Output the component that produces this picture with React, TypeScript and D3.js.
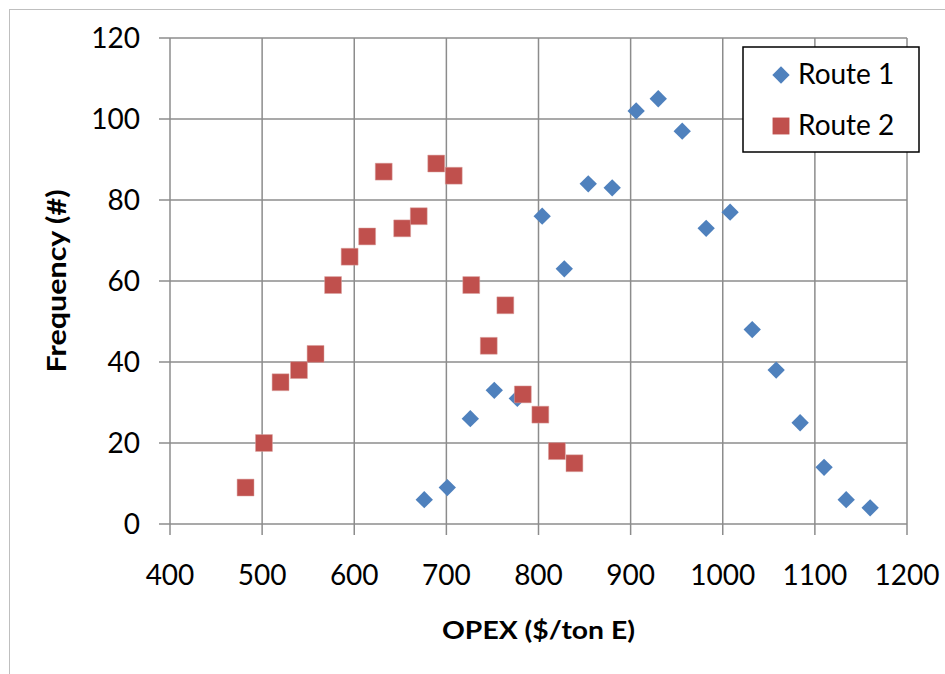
import React from "react";
import { scaleLinear, symbol, symbolSquare } from "d3";

const route1X = [676, 701, 726, 752, 777, 804, 828, 854, 880, 906, 930, 956, 982, 1008, 1032, 1058, 1084, 1110, 1134, 1160];
const route1Y = [6, 9, 26, 33, 31, 76, 63, 84, 83, 102, 105, 97, 73, 77, 48, 38, 25, 14, 6, 4];

const route2X = [482, 502, 520, 540, 558, 577, 595, 614, 632, 652, 670, 689, 708, 727, 746, 764, 783, 802, 820, 839];
const route2Y = [9, 20, 35, 38, 42, 59, 66, 71, 87, 73, 76, 89, 86, 59, 44, 54, 32, 27, 18, 15];

const xTicks = [400, 500, 600, 700, 800, 900, 1000, 1100, 1200];
const yTicks = [0, 20, 40, 60, 80, 100, 120];

const seriesNames = ["Route 1", "Route 2"];
const BLUE = "#4F81BD";
const RED = "#C0504D";
const GRID = "#8c8c8c";
const FONT = "Lato, 'Open Sans', sans-serif";

export default function App() {
  const width = 945;
  const height = 674;
  const margin = { left: 170, right: 38, top: 38, bottom: 150 };
  const tick = 11;

  const x = scaleLinear().domain([400, 1200]).range([margin.left, width - margin.right]);
  const y = scaleLinear().domain([0, 120]).range([height - margin.bottom, margin.top]);

  // diamond = rotated square
  const diamond = symbol().type(symbolSquare).size(150)()!;
  const square = symbol().type(symbolSquare).size(285)()!;

  const r1 = route1X.map((v, i) => ({ x: v, y: route1Y[i] }));
  const r2 = route2X.map((v, i) => ({ x: v, y: route2Y[i] }));

  return (
    <div style={{ position: "absolute", left: 0, top: 0 }}>
      <svg width={width} height={height} style={{ display: "block", background: "#fff" }}>
        {/* outer chart border */}
        <rect x={9.5} y={9.5} width={1000} height={1000} fill="none" stroke="#bfbfbf" strokeWidth={1} />

        {/* grid + ticks */}
        {yTicks.map((t) => (
          <g key={"y" + t}>
            <line x1={x(400) - tick} x2={x(1200)} y1={y(t)} y2={y(t)} stroke={GRID} strokeWidth={1.5} />
            <text
              x={140}
              y={y(t)}
              dy="0.36em"
              textAnchor="end"
              fontFamily={FONT}
              fontSize={28}
              fill="#000"
            >
              {t}
            </text>
          </g>
        ))}
        {xTicks.map((t) => (
          <g key={"x" + t}>
            <line x1={x(t)} x2={x(t)} y1={y(120)} y2={y(0) + tick} stroke={GRID} strokeWidth={1.5} />
            <text x={x(t)} y={585} textAnchor="middle" fontFamily={FONT} fontSize={28} fill="#000">
              {t}
            </text>
          </g>
        ))}

        {/* axis titles */}
        <text
          x={(x(400) + x(1200)) / 2}
          y={639}
          textAnchor="middle"
          fontFamily={FONT}
          fontWeight="bold"
          fontSize={24}
          textLength={193}
          lengthAdjust="spacingAndGlyphs"
          fill="#000"
        >
          OPEX ($/ton E)
        </text>
        <text
          transform={`translate(66,${(y(0) + y(120)) / 2}) rotate(-90)`}
          textAnchor="middle"
          fontFamily={FONT}
          fontWeight="bold"
          fontSize={27}
          textLength={183}
          lengthAdjust="spacingAndGlyphs"
          fill="#000"
        >
          Frequency (#)
        </text>

        {/* Route 1 diamonds */}
        {r1.map((d, i) => (
          <path key={"a" + i} d={diamond} fill={BLUE} transform={`translate(${x(d.x)},${y(d.y)}) rotate(45)`} />
        ))}
        {/* Route 2 squares */}
        {r2.map((d, i) => (
          <path key={"b" + i} d={square} fill={RED} stroke="#d9a09e" strokeWidth={0.5} transform={`translate(${x(d.x)},${y(d.y)})`} />
        ))}

        {/* Legend */}
        <g>
          <rect x={743} y={47} width={176} height={105} fill="#fff" stroke="#000" strokeWidth={1.5} />
          <path d={diamond} fill={BLUE} transform={`translate(781,75) rotate(45)`} />
          <text x={798} y={84} fontFamily={FONT} fontSize={28} fill="#000">
            {seriesNames[0]}
          </text>
          <path d={square} fill={RED} transform={`translate(781,126)`} />
          <text x={798} y={135} fontFamily={FONT} fontSize={28} fill="#000">
            {seriesNames[1]}
          </text>
        </g>
      </svg>
    </div>
  );
}
